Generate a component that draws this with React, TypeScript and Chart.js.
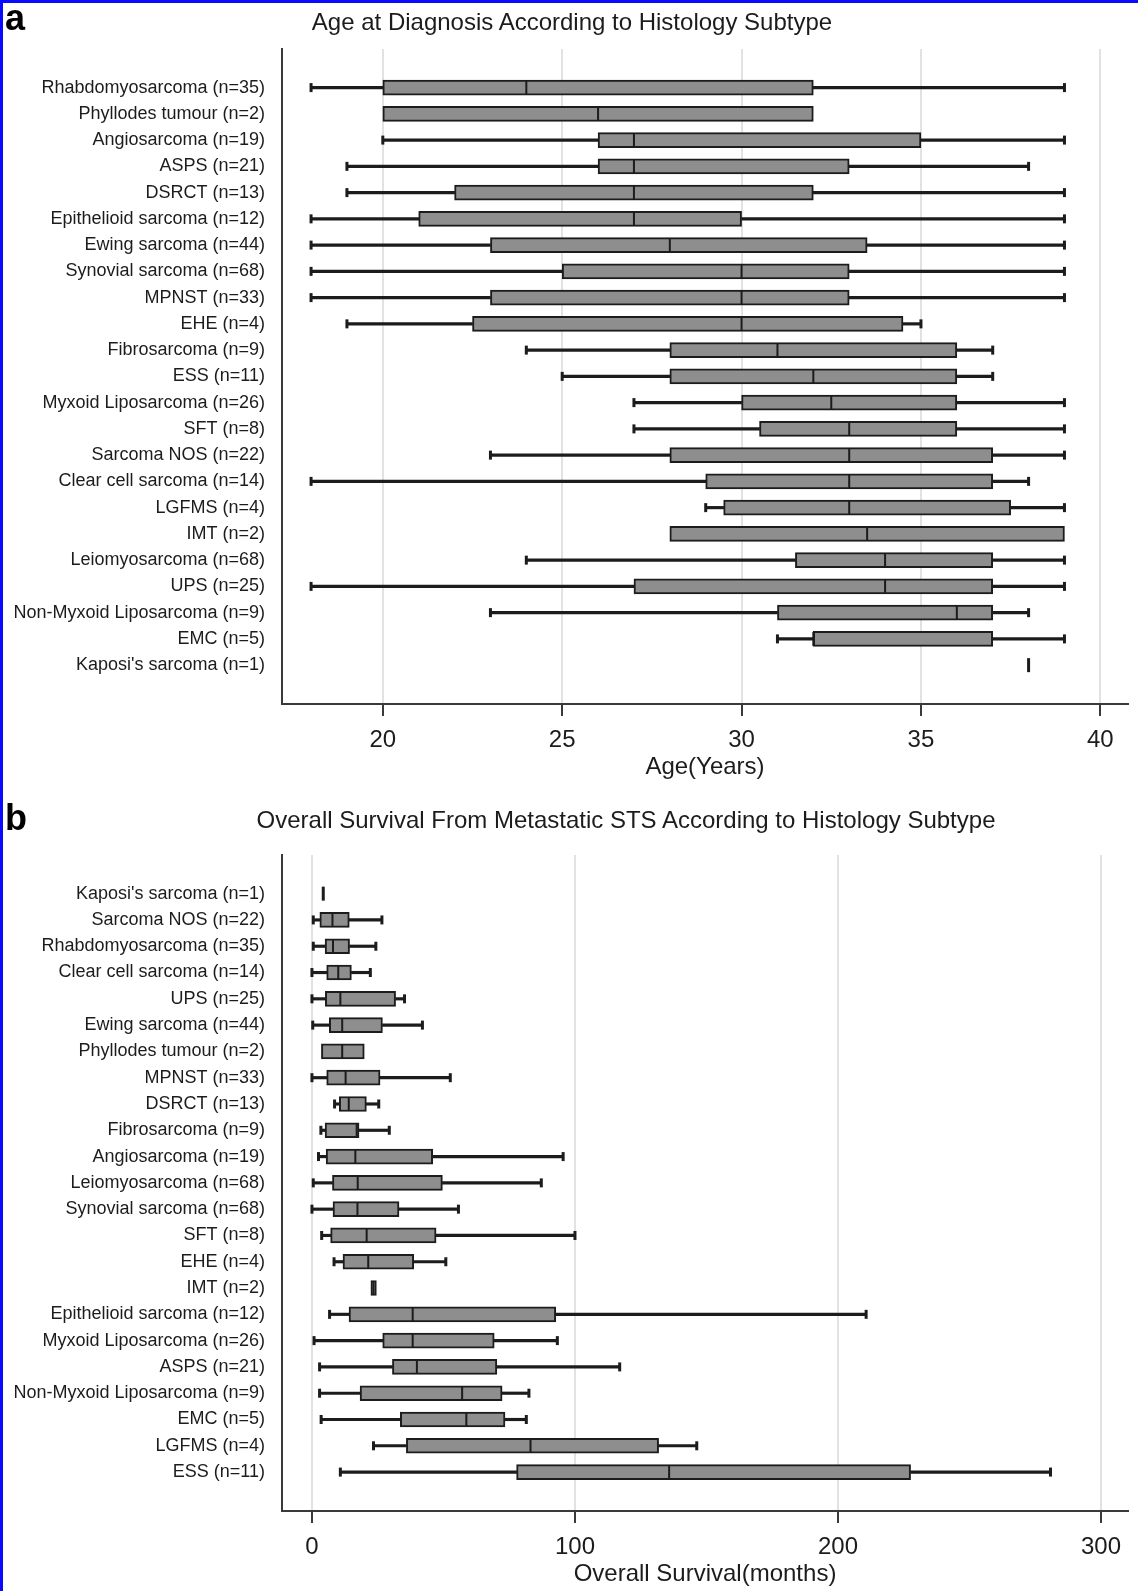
import React, { useEffect, useRef } from "react";
import { Chart, registerables } from "chart.js";

Chart.register(...registerables);

const FONT = "'Liberation Sans', Arial, Helvetica, sans-serif";
const INK = "#1c1c1c";
const AXIS = "#3a3a3a";
const BOX_FILL = "#8e8e8e";
const GRID = "#e2e2e2";

type V = number | null;

// ---------- Panel a: Age at diagnosis ----------
const ageCategories = [
  "Rhabdomyosarcoma (n=35)",
  "Phyllodes tumour (n=2)",
  "Angiosarcoma (n=19)",
  "ASPS (n=21)",
  "DSRCT (n=13)",
  "Epithelioid sarcoma (n=12)",
  "Ewing sarcoma (n=44)",
  "Synovial sarcoma (n=68)",
  "MPNST (n=33)",
  "EHE (n=4)",
  "Fibrosarcoma (n=9)",
  "ESS (n=11)",
  "Myxoid Liposarcoma (n=26)",
  "SFT (n=8)",
  "Sarcoma NOS (n=22)",
  "Clear cell sarcoma (n=14)",
  "LGFMS (n=4)",
  "IMT (n=2)",
  "Leiomyosarcoma (n=68)",
  "UPS (n=25)",
  "Non-Myxoid Liposarcoma (n=9)",
  "EMC (n=5)",
  "Kaposi's sarcoma (n=1)",
];
const ageMin: V[] = [18, null, 20, 19, 19, 18, 18, 18, 18, 19, 24, 25, 27, 27, 23, 18, 29, null, 24, 18, 23, 31, null];
const ageQ1: V[] = [20, 20, 26, 26, 22, 21, 23, 25, 23, 22.5, 28, 28, 30, 30.5, 28, 29, 29.5, 28, 31.5, 27, 31, 32, null];
const ageMedian: V[] = [24, 26, 27, 27, 27, 27, 28, 30, 30, 30, 31, 32, 32.5, 33, 33, 33, 33, 33.5, 34, 34, 36, 32, 38];
const ageQ3: V[] = [32, 32, 35, 33, 32, 30, 33.5, 33, 33, 34.5, 36, 36, 36, 36, 37, 37, 37.5, 39, 37, 37, 37, 37, null];
const ageMax: V[] = [39, null, 39, 38, 39, 39, 39, 39, 39, 35, 37, 37, 39, 39, 39, 38, 39, null, 39, 39, 38, 39, null];
const ageTicks = [20, 25, 30, 35, 40];

// ---------- Panel b: Overall survival ----------
const survCategories = [
  "Kaposi's sarcoma (n=1)",
  "Sarcoma NOS (n=22)",
  "Rhabdomyosarcoma (n=35)",
  "Clear cell sarcoma (n=14)",
  "UPS (n=25)",
  "Ewing sarcoma (n=44)",
  "Phyllodes tumour (n=2)",
  "MPNST (n=33)",
  "DSRCT (n=13)",
  "Fibrosarcoma (n=9)",
  "Angiosarcoma (n=19)",
  "Leiomyosarcoma (n=68)",
  "Synovial sarcoma (n=68)",
  "SFT (n=8)",
  "EHE (n=4)",
  "IMT (n=2)",
  "Epithelioid sarcoma (n=12)",
  "Myxoid Liposarcoma (n=26)",
  "ASPS (n=21)",
  "Non-Myxoid Liposarcoma (n=9)",
  "EMC (n=5)",
  "LGFMS (n=4)",
  "ESS (n=11)",
];
const survMin: V[] = [null, 0.5, 0.5, 0, 0, 0.3, null, 0, 8.6, 3.4, 2.5, 0.5, 0, 3.7, 8.4, null, 6.7, 0.8, 2.9, 2.9, 3.5, 23.4, 10.8];
const survQ1: V[] = [null, 3, 5, 5.6, 5.1, 6.6, 3.6, 5.6, 10.4, 5, 5.4, 7.8, 8, 7.1, 11.8, 22.4, 14.1, 26.9, 30.6, 18.3, 33.6, 35.9, 77.8];
const survMedian: V[] = [4.3, 7.8, 8, 10, 10.8, 11.5, 11.5, 12.8, 14, 17, 16.5, 17.4, 17.3, 20.8, 21.4, 23.4, 38.3, 38.3, 39.9, 57.1, 58.7, 83.1, 135.8];
const survQ3: V[] = [null, 14.2, 14.3, 15, 31.8, 26.8, 19.9, 25.9, 20.7, 17.9, 45.9, 49.6, 33.1, 47.2, 38.7, 24.5, 92.7, 69.3, 70.3, 72.3, 73.4, 131.8, 227.6];
const survMax: V[] = [null, 26.6, 24.3, 22.2, 35.2, 42, null, 52.6, 25.4, 29.4, 95.5, 87.2, 55.7, 100, 50.9, null, 210.7, 93.3, 117, 82.5, 81.5, 146.3, 280.8];
const survTicks = [0, 100, 200, 300];

interface PanelProps {
  labels: string[];
  mins: V[];
  q1s: V[];
  meds: V[];
  q3s: V[];
  maxs: V[];
  ticks: number[];
  xMin: number;
  xMax: number;
  xTitle: string;
  areaTop: number;
  top: number;
  height: number;
}

function buildConfig(p: PanelProps): any {
  const rows = p.labels.map((_, i) => i);
  const boxes = rows
    .filter((i) => p.q1s[i] !== null && p.q3s[i] !== null)
    .map((i) => ({ x: [p.q1s[i], p.q3s[i]], y: i }));
  const lowW = rows
    .filter((i) => p.mins[i] !== null && p.q1s[i] !== null)
    .map((i) => ({ x: [p.mins[i], p.q1s[i]], y: i }));
  const highW = rows
    .filter((i) => p.maxs[i] !== null && p.q3s[i] !== null)
    .map((i) => ({ x: [p.q3s[i], p.maxs[i]], y: i }));
  const caps = rows.flatMap((i) =>
    [p.mins[i], p.maxs[i]].filter((v) => v !== null).map((v) => ({ x: v, y: i }))
  );
  const medians = rows
    .filter((i) => p.meds[i] !== null)
    .map((i) => ({ x: p.meds[i], y: i, single: p.q1s[i] === null }));

  const whisker = {
    type: "bar",
    backgroundColor: INK,
    borderWidth: 0,
    barThickness: 2.5,
    grouped: false,
    borderSkipped: false,
    order: 3,
  };

  return {
    type: "bar",
    data: {
      datasets: [
        { ...whisker, data: lowW },
        { ...whisker, data: highW },
        {
          type: "bar",
          data: boxes,
          backgroundColor: BOX_FILL,
          borderColor: INK,
          borderWidth: 2,
          barThickness: 15,
          grouped: false,
          borderSkipped: false,
          order: 2,
        },
        {
          type: "scatter",
          data: caps,
          pointStyle: "line",
          pointRotation: 90,
          pointRadius: 4.5,
          pointBorderWidth: 3,
          pointBorderColor: INK,
          pointHoverRadius: 4.5,
          order: 1,
        },
        {
          type: "scatter",
          data: medians,
          pointStyle: "line",
          pointRotation: 90,
          pointRadius: 7,
          pointBorderWidth: (ctx: any) => (ctx.raw && ctx.raw.single ? 3 : 2),
          pointBorderColor: INK,
          pointHoverRadius: 7,
          order: 0,
        },
      ],
    },
    options: {
      indexAxis: "y",
      responsive: false,
      animation: false,
      events: [],
      layout: { padding: { top: p.areaTop, left: 0, right: 0, bottom: 0 } },
      plugins: {
        legend: { display: false },
        tooltip: { enabled: false },
        title: { display: false },
      },
      scales: {
        x: {
          type: "linear",
          position: "bottom",
          min: p.xMin,
          max: p.xMax,
          beginAtZero: false,
          offset: false,
          afterBuildTicks: (s: any) => {
            s.ticks = p.ticks.map((v) => ({ value: v }));
          },
          afterFit: (s: any) => {
            s.height = 80;
          },
          grid: {
            display: true,
            offset: false,
            color: GRID,
            lineWidth: 2,
            drawTicks: true,
            tickLength: 12,
            tickColor: AXIS,
            tickWidth: 2,
          },
          border: { display: true, color: AXIS, width: 2 },
          ticks: {
            font: { family: FONT, size: 24, lineHeight: 1.2 },
            color: INK,
            padding: 10,
            maxRotation: 0,
            autoSkip: false,
          },
          title: {
            display: true,
            text: p.xTitle,
            font: { family: FONT, size: 24, lineHeight: 1.2 },
            color: INK,
            padding: { top: 0, bottom: 2 },
          },
        },
        y: {
          type: "linear",
          position: "left",
          reverse: true,
          min: -1.47,
          max: 23.48,
          offset: false,
          beginAtZero: false,
          afterBuildTicks: (s: any) => {
            s.ticks = rows.map((i) => ({ value: i }));
          },
          afterFit: (s: any) => {
            s.width = 282;
          },
          grid: { display: false, drawTicks: false, offset: false },
          border: { display: true, color: AXIS, width: 2 },
          ticks: {
            callback: (v: any) => p.labels[v as number] ?? "",
            font: { family: FONT, size: 18, lineHeight: 1.2 },
            color: INK,
            padding: 17,
            autoSkip: false,
          },
        },
      },
    },
  };
}

function BoxPanel(props: PanelProps) {
  const ref = useRef<HTMLCanvasElement | null>(null);
  useEffect(() => {
    if (!ref.current) return;
    const chart = new Chart(ref.current, buildConfig(props));
    return () => chart.destroy();
  }, []);
  return (
    <canvas
      ref={ref}
      width={1138}
      height={props.height}
      style={{
        position: "absolute",
        left: 0,
        top: props.top,
        width: 1138,
        height: props.height,
        display: "block",
      }}
    />
  );
}

const titleStyle: React.CSSProperties = {
  position: "absolute",
  fontFamily: FONT,
  fontSize: 24,
  lineHeight: "24px",
  color: INK,
  whiteSpace: "nowrap",
  transform: "translateX(-50%)",
};

const letterStyle: React.CSSProperties = {
  position: "absolute",
  fontFamily: FONT,
  fontSize: 36,
  fontWeight: "bold",
  lineHeight: "36px",
  color: "#000",
  left: 5,
};

export default function App() {
  return (
    <div
      style={{
        position: "absolute",
        left: 0,
        top: 0,
        width: 1138,
        height: 1591,
        background: "#fff",
        overflow: "hidden",
      }}
    >
      <BoxPanel
        labels={ageCategories}
        mins={ageMin}
        q1s={ageQ1}
        meds={ageMedian}
        q3s={ageQ3}
        maxs={ageMax}
        ticks={ageTicks}
        xMin={17.19}
        xMax={40.771}
        xTitle="Age(Years)"
        areaTop={49}
        top={0}
        height={784}
      />
      <BoxPanel
        labels={survCategories}
        mins={survMin}
        q1s={survQ1}
        meds={survMedian}
        q3s={survQ3}
        maxs={survMax}
        ticks={survTicks}
        xMin={-11.385}
        xMax={310.26}
        xTitle="Overall Survival(months)"
        areaTop={71}
        top={784}
        height={807}
      />
      <div style={{ ...letterStyle, top: 0 }}>a</div>
      <div style={{ ...letterStyle, top: 800 }}>b</div>
      <div style={{ ...titleStyle, left: 572, top: 10 }}>
        Age at Diagnosis According to Histology Subtype
      </div>
      <div style={{ ...titleStyle, left: 626, top: 808 }}>
        Overall Survival From Metastatic STS According to Histology Subtype
      </div>
      <div
        style={{
          position: "absolute",
          left: 0,
          top: 0,
          width: 1138,
          height: 1591,
          boxSizing: "border-box",
          borderTop: "3px solid #0a0aff",
          borderLeft: "3px solid #0a0aff",
          pointerEvents: "none",
        }}
      />
    </div>
  );
}
